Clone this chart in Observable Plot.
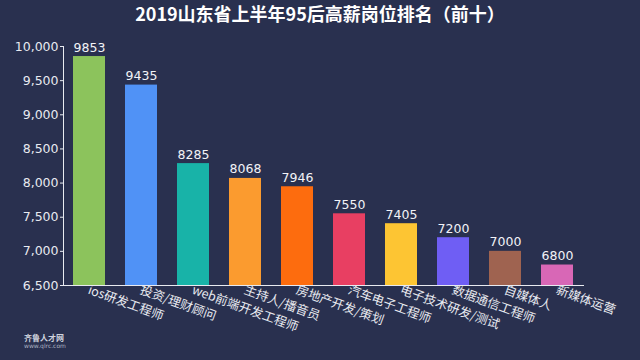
<!DOCTYPE html>
<html><head><meta charset="utf-8">
<script src="https://cdn.jsdelivr.net/npm/d3@7"></script>
<script src="https://cdn.jsdelivr.net/npm/@observablehq/plot@0.6"></script>
<style>
html,body{margin:0;padding:0;background:#29304f;width:640px;height:360px;overflow:hidden;position:relative}
#title{height:34px;line-height:34px;text-align:center;color:#fff;font:bold 18px "Noto Sans CJK SC",sans-serif;}
#logo{position:absolute;left:6px;top:334px;color:#cfd3de;font:bold 8px "Noto Sans CJK SC",sans-serif;line-height:8px}
#logo small{display:block;font:6px "DejaVu Sans",sans-serif;font-weight:normal;color:#aab0c0;margin-left:18px}
</style></head>
<body>
<div id="title">2019山东省上半年95后高薪岗位排名（前十）</div>
<div id="chart"></div>
<div id="logo"><span style="margin-left:18px">齐鲁人才网</span><small>www.qlrc.com</small></div>
<script>
const categories = ["ios研发工程师","投资/理财顾问","web前端开发工程师","主持人/播音员","房地产开发/策划","汽车电子工程师","电子技术研发/测试","数据通信工程师","自媒体人","新媒体运营"];
const values = [9853, 9435, 8285, 8068, 7946, 7550, 7405, 7200, 7000, 6800];
const yTicks = [6500, 7000, 7500, 8000, 8500, 9000, 9500, 10000];
const colors = ["#8cc35c","#5092f6","#18b3a8","#fb9b2f","#fd6c0e","#e83f62","#fdc533","#6f5ef4","#9f6350","#d867b6"];
const data = categories.map((c, i) => ({cat: c, value: values[i]}));
const chart = Plot.plot({
  width: 640, height: 326,
  marginTop: 12, marginBottom: 75, marginLeft: 63, marginRight: 57,
  style: {background: "transparent", color: "#e8eaf0", fontFamily: "'DejaVu Sans','Noto Sans CJK SC',sans-serif", fontSize: "12.5px"},
  x: {domain: categories, paddingInner: 0.39, paddingOuter: 0.195, label: null, tickRotate: 20, tickSize: 0, tickPadding: 0, line: true},
  y: {domain: [6500, 10000], ticks: yTicks, tickFormat: d3.format(","), label: null, tickSize: 3, tickPadding: 2, line: true},
  color: {domain: categories, range: colors},
  marks: [
    Plot.barY(data, {x: "cat", y1: 6500, y2: "value", fill: "cat"}),
    Plot.text(data, {x: "cat", y: "value", text: d => String(d.value), dy: -9, fill: "#f2f3f7", fontSize: 12.5})
  ]
});
chart.querySelectorAll('[aria-label="x-axis tick label"]').forEach(g => {
  g.setAttribute("transform", (g.getAttribute("transform") || "") + " translate(-1,4)");
  g.querySelectorAll("text").forEach(t => t.style.fontFamily = "'Noto Sans CJK SC',sans-serif");
});
document.getElementById("chart").appendChild(chart);
</script>
</body></html>
